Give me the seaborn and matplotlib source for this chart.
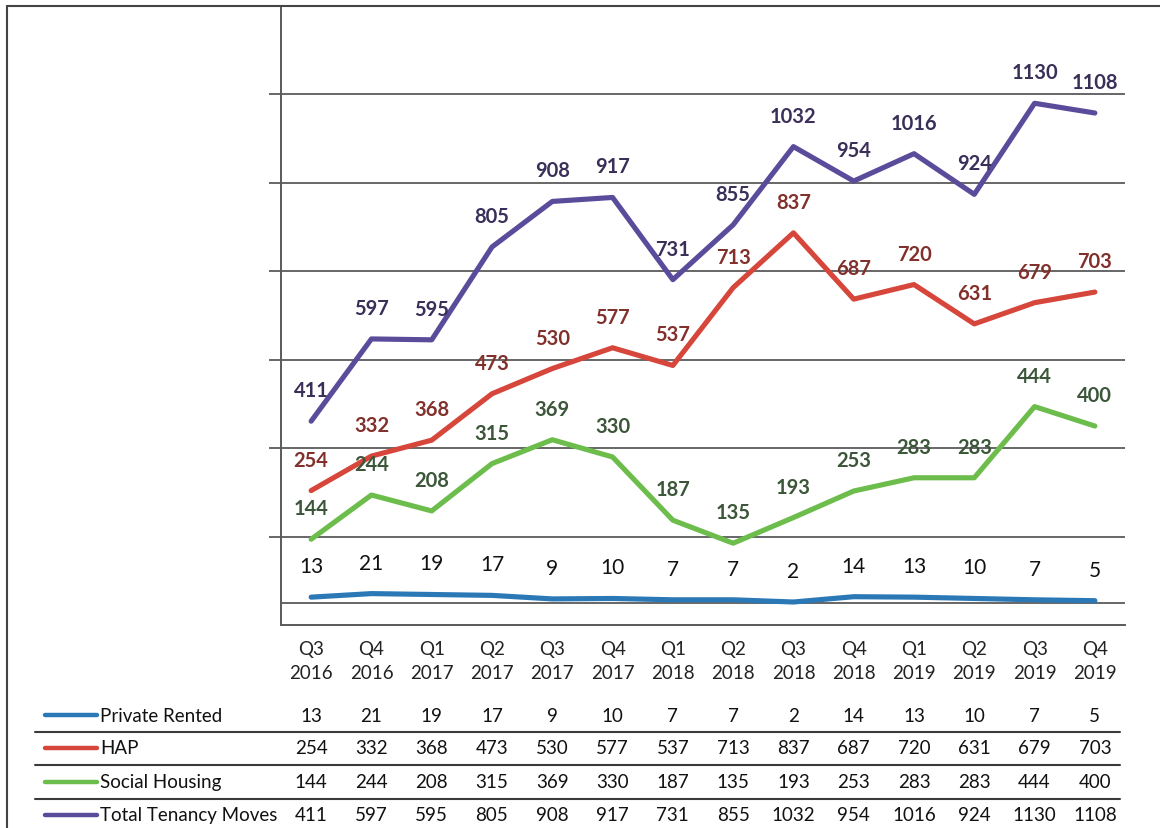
import matplotlib
matplotlib.use("Agg")
import matplotlib.pyplot as plt
import matplotlib.transforms as mtransforms
from matplotlib.lines import Line2D
import seaborn as sns
import pandas as pd

# ---------------- data ----------------
quarters = ["Q3\n2016", "Q4\n2016", "Q1\n2017", "Q2\n2017", "Q3\n2017", "Q4\n2017",
            "Q1\n2018", "Q2\n2018", "Q3\n2018", "Q4\n2018", "Q1\n2019", "Q2\n2019",
            "Q3\n2019", "Q4\n2019"]
series_names = ["Private Rented", "HAP", "Social Housing", "Total Tenancy Moves"]
private_rented = [13, 21, 19, 17, 9, 10, 7, 7, 2, 14, 13, 10, 7, 5]
hap = [254, 332, 368, 473, 530, 577, 537, 713, 837, 687, 720, 631, 679, 703]
social_housing = [144, 244, 208, 315, 369, 330, 187, 135, 193, 253, 283, 283, 444, 400]
total_moves = [411, 597, 595, 805, 908, 917, 731, 855, 1032, 954, 1016, 924, 1130, 1108]

values = [private_rented, hap, social_housing, total_moves]

# ---------------- styles ----------------
line_colors = {"Private Rented": "#2a78b6", "HAP": "#d6463b",
               "Social Housing": "#6cbd4c", "Total Tenancy Moves": "#5b4b9b"}
label_colors = {"Private Rented": "#111111", "HAP": "#82302c",
                "Social Housing": "#3b5638", "Total Tenancy Moves": "#3a2f58"}
label_weight = {"Private Rented": "normal", "HAP": "bold",
                "Social Housing": "bold", "Total Tenancy Moves": "bold"}
grid_color = "#5a5a5a"

sns.set_theme(style="white")
plt.rcParams["font.family"] = ["Lato", "DejaVu Sans"]

W, H = 1160, 829
fig = plt.figure(figsize=(W / 100, H / 100), dpi=100)
fig.patch.set_facecolor("white")

ax_l, ax_r, ax_t, ax_b = 281, 1125, 7, 626
ax = fig.add_axes([ax_l / W, 1 - ax_b / H, (ax_r - ax_l) / W, (ax_b - ax_t) / H])

rows = []
for name, vals in zip(series_names, values):
    for i, v in enumerate(vals):
        rows.append({"idx": i, "value": v, "series": name})
df = pd.DataFrame(rows)

sns.lineplot(data=df, x="idx", y="value", hue="series", hue_order=series_names,
             palette=line_colors, linewidth=3.7, legend=False, sort=False, ax=ax,
             zorder=3)

ax.set_xlim(-0.5, len(quarters) - 0.5)
ax.set_ylim(-50, 1350)
ax.set_yticks([150, 350, 550, 750, 950, 1150])
ax.set_yticklabels([])
ax.yaxis.grid(True, color=grid_color, linewidth=1.3)
ax.xaxis.grid(False)
ax.axhline(0, color=grid_color, linewidth=1.3, zorder=1)
ax.tick_params(axis="y", which="both", left=True, length=9, width=1.3,
               color=grid_color, direction="out")
ax.set_xticks(range(len(quarters)))
ax.set_xticklabels(quarters, fontsize=13.5, color="#222222", linespacing=1.45)
ax.tick_params(axis="x", length=0, pad=11)
ax.set_xlabel("")
ax.set_ylabel("")
for s in ["top", "right"]:
    ax.spines[s].set_visible(False)
for s in ["left", "bottom"]:
    ax.spines[s].set_color(grid_color)
    ax.spines[s].set_linewidth(1.4)

# data labels
for name, vals in zip(series_names, values):
    for i, v in enumerate(vals):
        ax.annotate(str(v), (i, v), xytext=(0, 31), textcoords="offset pixels",
                    ha="center", va="center",
                    fontsize=15 if name == "Private Rented" else 14.5,
                    fontweight=label_weight[name], color=label_colors[name],
                    zorder=5)

# ---------------- table ----------------
tr = mtransforms.blended_transform_factory(ax.transData, fig.transFigure)
row_y = [716, 749, 783, 816]
sep_y = [733, 766, 800]
for name, vals, yp in zip(series_names, values, row_y):
    yf = 1 - yp / H
    fig.add_artist(Line2D([45 / W, 97 / W], [yf, yf], color=line_colors[name],
                          linewidth=3.2, solid_capstyle="round"))
    fig.text(100 / W, yf, name, ha="left", va="center", fontsize=13.5, color="#111111")
    for i, v in enumerate(vals):
        ax.text(i, yf, str(v), transform=tr, ha="center", va="center",
                fontsize=13.5, color="#111111", clip_on=False)
for yp in sep_y:
    yf = 1 - yp / H
    fig.add_artist(Line2D([35 / W, 1120 / W], [yf, yf], color="#3a3a3a", linewidth=1.5))

# outer frame (top and left border)
fig.add_artist(Line2D([7 / W, 1.0], [1 - 7 / H, 1 - 7 / H], color="#444444", linewidth=1.5))
fig.add_artist(Line2D([7 / W, 7 / W], [0, 1 - 7 / H], color="#444444", linewidth=1.5))

fig.savefig("out.png", dpi=100)
